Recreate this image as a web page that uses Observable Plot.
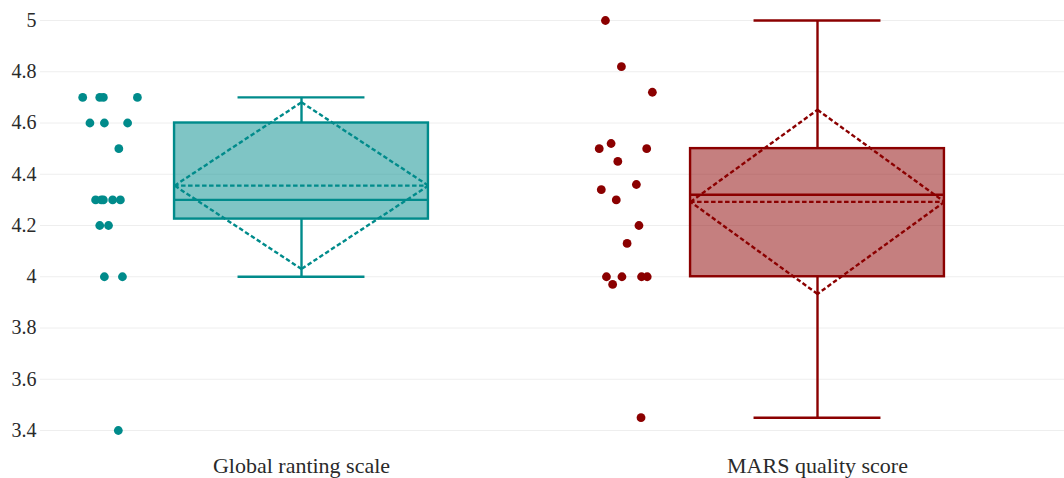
<!DOCTYPE html>
<html>
<head>
<meta charset="utf-8">
<script src="https://cdn.jsdelivr.net/npm/d3@7"></script>
<script src="https://cdn.jsdelivr.net/npm/@observablehq/plot@0.6"></script>
<style>
  html, body { margin: 0; padding: 0; background: #fff; }
  #chart { width: 1064px; height: 478px; }
</style>
</head>
<body>
<div id="chart"></div>
<script>
// ---- data ----
const categories = ["Global ranting scale", "MARS quality score"];
const colors = ["#008B8B", "#8B0000"];

const globalValues = [4.7, 4.7, 4.7, 4.7, 4.6, 4.6, 4.6, 4.5, 4.3, 4.3, 4.3, 4.3, 4.3, 4.2, 4.2, 4.0, 4.0, 3.4];
const globalJitter = [-0.424, -0.391, -0.384, -0.318, -0.410, -0.382, -0.337, -0.354, -0.399, -0.388, -0.384, -0.366, -0.351, -0.391, -0.374, -0.382, -0.347, -0.355];

const marsValues = [5.0, 4.82, 4.72, 4.5, 4.52, 4.5, 4.45, 4.34, 4.36, 4.3, 4.2, 4.13, 4.0, 4.0, 4.0, 4.0, 3.97, 3.45];
const marsJitter = [-0.411, -0.380, -0.320, -0.423, -0.400, -0.331, -0.387, -0.419, -0.351, -0.390, -0.346, -0.369, -0.409, -0.379, -0.341, -0.330, -0.397, -0.342];

const yTicks = [3.4, 3.6, 3.8, 4, 4.2, 4.4, 4.6, 4.8, 5];

// ---- derived ----
const groups = [globalValues, marsValues];
const jitters = [globalJitter, marsJitter];
const boxHalf = 0.246, capHalf = 0.123;
const lw = 2.4;

const stats = groups.map((vals, i) => {
  const s = vals.slice().sort(d3.ascending);
  const q1 = d3.quantile(s, 0.25), med = d3.quantile(s, 0.5), q3 = d3.quantile(s, 0.75);
  const iqr = q3 - q1;
  const lo = d3.min(s.filter(v => v >= q1 - 1.5 * iqr));
  const hi = d3.max(s.filter(v => v <= q3 + 1.5 * iqr));
  const mean = d3.mean(s);
  const sd = Math.sqrt(d3.mean(s, v => (v - mean) ** 2));
  return {i, q1, med, q3, lo, hi, mean, sd, color: colors[i]};
});

// diamond edges (mean ± sd)
const diamond = stats.flatMap(d => {
  const L = [d.i - boxHalf, d.mean], T = [d.i, d.mean + d.sd], R = [d.i + boxHalf, d.mean], B = [d.i, d.mean - d.sd];
  return [[L, T], [T, R], [R, B], [B, L]].map(([a, b]) => ({x1: a[0], y1: a[1], x2: b[0], y2: b[1], color: d.color}));
});

const points = groups.flatMap((vals, i) => vals.map((v, k) => ({i, v, j: jitters[i][k], color: colors[i]})));

const chart = Plot.plot({
  width: 1064,
  height: 478,
  marginLeft: 40,
  marginRight: 0,
  marginTop: 7,
  marginBottom: 35,
  style: {fontFamily: "'Liberation Serif', 'Times New Roman', serif", fontSize: "20px", color: "#2a2a2a", background: "#fff"},
  x: {domain: [0, 1], range: [301, 817], axis: null},
  y: {domain: [3.4, 5], range: [430, 20], axis: null},
  color: {type: "identity"},
  marks: [
    Plot.gridY(yTicks, {stroke: "#eeeeee", strokeOpacity: 1, strokeWidth: 1}),
    Plot.axisY(yTicks, {tickSize: 0, tickPadding: 4, tickFormat: d => String(d), fontSize: 20, fill: "#2a2a2a"}),
    Plot.axisX([0, 1], {tickSize: 0, tickPadding: 14, tickFormat: i => categories[i], fontSize: 22, fill: "#2a2a2a"}),
    Plot.rect(stats, {x1: d => d.i - boxHalf, x2: d => d.i + boxHalf, y1: "q1", y2: "q3", fill: "color", fillOpacity: 0.5, stroke: "color", strokeWidth: lw}),
    Plot.ruleY(stats, {y: "med", x1: d => d.i - boxHalf, x2: d => d.i + boxHalf, stroke: "color", strokeWidth: lw}),
    Plot.ruleX(stats, {x: "i", y1: "q3", y2: "hi", stroke: "color", strokeWidth: lw}),
    Plot.ruleX(stats, {x: "i", y1: "lo", y2: "q1", stroke: "color", strokeWidth: lw}),
    Plot.ruleY(stats, {y: "hi", x1: d => d.i - capHalf, x2: d => d.i + capHalf, stroke: "color", strokeWidth: lw}),
    Plot.ruleY(stats, {y: "lo", x1: d => d.i - capHalf, x2: d => d.i + capHalf, stroke: "color", strokeWidth: lw}),
    Plot.ruleY(stats, {y: "mean", x1: d => d.i - boxHalf, x2: d => d.i + boxHalf, stroke: "color", strokeWidth: lw, strokeDasharray: "4.5,2.5"}),
    Plot.link(diamond, {x1: "x1", y1: "y1", x2: "x2", y2: "y2", stroke: "color", strokeWidth: lw, strokeDasharray: "4.5,2.5"}),
    Plot.dot(points, {x: d => d.i + d.j, y: "v", r: 4.4, fill: "color", stroke: null})
  ]
});
document.getElementById("chart").appendChild(chart);
</script>
</body>
</html>
